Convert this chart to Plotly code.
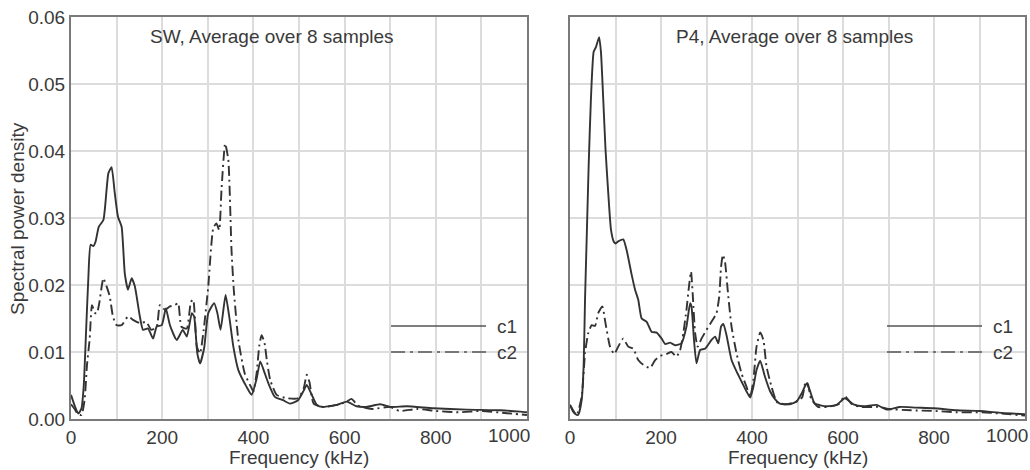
import plotly.graph_objects as go

# ---------------- data ----------------
sw_c1_x = [0, 8, 16, 23, 28, 33, 38, 43, 49, 54, 61, 71, 78, 82, 89, 96, 103, 111, 118, 125,
           133, 140, 151, 158, 169, 180, 188, 199, 208, 217, 232, 245, 254, 265, 270, 277, 283,
           292, 301, 314, 321, 328, 339, 348, 356, 367, 385, 396, 407, 415, 425, 433, 447, 465,
           480, 498, 510, 517, 528, 539, 553, 583, 605, 626, 648, 678, 700, 736, 795, 868, 941,
           985, 1000]
sw_c1_y = [0.0036, 0.0020, 0.0008, 0.0016, 0.0050, 0.0130, 0.0210, 0.0260, 0.0258, 0.0265,
           0.0287, 0.0297, 0.0342, 0.0367, 0.0376, 0.0337, 0.0302, 0.0287, 0.0217, 0.0193,
           0.0210, 0.0198, 0.0153, 0.0133, 0.0135, 0.0120, 0.0138, 0.0140, 0.0165, 0.0140,
           0.0118, 0.0133, 0.0123, 0.0158, 0.0153, 0.0098, 0.0083, 0.0106, 0.0158, 0.0173,
           0.0158, 0.0133, 0.0185, 0.0148, 0.0108, 0.0073, 0.0048, 0.0036, 0.0060, 0.0086,
           0.0068, 0.0053, 0.0033, 0.0028, 0.0023, 0.0028, 0.0042, 0.0051, 0.0036, 0.0021,
           0.0018, 0.0021, 0.0026, 0.0019, 0.0018, 0.0022, 0.0018, 0.0019, 0.0016, 0.0014,
           0.0013, 0.0011, 0.0010]

sw_c2_x = [0, 8, 14, 23, 30, 35, 41, 46, 53, 57, 62, 71, 78, 85, 92, 100, 111, 125, 136, 151,
           165, 176, 188, 195, 206, 217, 228, 235, 242, 254, 263, 268, 276, 283, 291, 301, 312,
           319, 325, 330, 338, 345, 352, 357, 367, 381, 396, 400, 407, 413, 418, 424, 430, 437,
           451, 473, 498, 510, 517, 523, 532, 553, 583, 605, 615, 630, 660, 700, 720, 760, 800,
           850, 900, 950, 1000]
sw_c2_y = [0.0022, 0.0015, 0.0008, 0.0006, 0.0030, 0.0080, 0.0120, 0.0170, 0.0158, 0.0158,
           0.0173, 0.0210, 0.0198, 0.0183, 0.0153, 0.0140, 0.0140, 0.0153, 0.0148, 0.0143,
           0.0145, 0.0133, 0.0138, 0.0170, 0.0163, 0.0168, 0.0170, 0.0173, 0.0138, 0.0135,
           0.0175, 0.0178, 0.0108, 0.0098, 0.0133, 0.0198, 0.0285, 0.0292, 0.0282, 0.0342,
           0.0411, 0.0387, 0.0252, 0.0193, 0.0118, 0.0068, 0.0046, 0.0041, 0.0068, 0.0110,
           0.0125, 0.0115, 0.0085, 0.0058, 0.0036, 0.0031, 0.0031, 0.0045, 0.0066, 0.0055,
           0.0023, 0.0018, 0.0021, 0.0026, 0.0030, 0.0020, 0.0015, 0.0018, 0.0012, 0.0015,
           0.0012, 0.0010, 0.0012, 0.0009, 0.0006]

p4_c1_x = [0, 6, 11, 18, 25.6, 30, 33, 37, 41, 46, 52, 57, 64, 68, 73, 78, 84, 90, 96, 100,
           106, 117, 124.5, 135, 143, 150, 157.5, 168.5, 179.5, 190.5, 201.5, 209, 220, 231,
           245, 256, 264, 267, 272.5, 278, 286, 297, 311, 319, 326, 332, 337, 344, 355, 366,
           377, 388, 396, 403, 410, 418, 428.5, 440, 450, 461, 483, 498, 509, 520, 527, 538,
           564, 586, 604, 623, 645, 674, 696, 725, 760, 800, 850, 900, 950, 1000]
p4_c1_y = [0.0021, 0.0012, 0.0008, 0.0006, 0.0028, 0.0080, 0.0178, 0.0278, 0.0378, 0.0478,
           0.0548, 0.0555, 0.0570, 0.0548, 0.0478, 0.0403, 0.0338, 0.0283, 0.0265, 0.0262,
           0.0265, 0.0268, 0.0252, 0.0217, 0.0193, 0.0178, 0.0150, 0.0145, 0.0130, 0.0129,
           0.0120, 0.0112, 0.0114, 0.0110, 0.0113, 0.0138, 0.0173, 0.0168, 0.0118, 0.0083,
           0.0103, 0.0105, 0.0118, 0.0123, 0.0113, 0.0138, 0.0142, 0.0125, 0.0088, 0.0071,
           0.0056, 0.0041, 0.0032, 0.0048, 0.0073, 0.0087, 0.0063, 0.0041, 0.0030, 0.0023,
           0.0022, 0.0026, 0.0038, 0.0053, 0.0043, 0.0023, 0.0019, 0.0021, 0.0031, 0.0022,
           0.0019, 0.0021, 0.0014, 0.0018, 0.0017, 0.0016, 0.0013, 0.0012, 0.0009, 0.0007]

p4_c2_x = [0, 14.6, 25.6, 33, 40, 47.6, 55, 62, 71, 78, 88, 97.4, 106, 117, 128, 139, 150, 161,
           176, 187, 198, 212, 223, 234, 242, 249, 256, 261.5, 266, 270, 275, 280.6, 289, 300,
           311, 322, 328, 332, 336, 340.6, 346.5, 355, 366, 377, 388, 396, 403, 410, 418, 425,
           432, 443, 455, 475, 495, 510, 518, 523, 530, 545, 565, 590, 604, 620, 640, 680, 700,
           750, 800, 850, 900, 950, 1000]
p4_c2_y = [0.0021, 0.0006, 0.0033, 0.0098, 0.0128, 0.0140, 0.0139, 0.0158, 0.0168, 0.0143,
           0.0108, 0.0097, 0.0108, 0.0120, 0.0108, 0.0105, 0.0088, 0.0081, 0.0076, 0.0088,
           0.0094, 0.0097, 0.0100, 0.0093, 0.0103, 0.0128, 0.0163, 0.0198, 0.0220, 0.0183,
           0.0128, 0.0108, 0.0120, 0.0133, 0.0145, 0.0158, 0.0183, 0.0227, 0.0245, 0.0235,
           0.0193, 0.0138, 0.0098, 0.0068, 0.0048, 0.0033, 0.0058, 0.0108, 0.0129, 0.0118,
           0.0078, 0.0048, 0.0025, 0.0022, 0.0025, 0.0032, 0.0056, 0.0052, 0.0030, 0.0018,
           0.0018, 0.0022, 0.0034, 0.0022, 0.0018, 0.0018, 0.0015, 0.0013, 0.0012, 0.0010,
           0.0010, 0.0008, 0.0005]

x_tick_vals = [0, 100, 200, 300, 400, 500, 600, 700, 800, 900, 1000]
x_tick_text = ["0", "", "200", "", "400", "", "600", "", "800", "", ""]
y_tick_vals = [0.00, 0.01, 0.02, 0.03, 0.04, 0.05, 0.06]
y_tick_text = ["0.00", "0.01", "0.02", "0.03", "0.04", "0.05", "0.06"]
panel_titles = ["SW, Average over 8 samples", "P4, Average over 8 samples"]
series_names = ["c1", "c2"]
x_title = "Frequency (kHz)"
y_title = "Spectral power density"

# ---------------- style ----------------
W, H = 1030, 470
FONT = "Liberation Sans, Arial, sans-serif"
FS = 19
TXT = "#3a3a3a"
LINE = "#333333"
GRID = "#dcdcdc"
FRAME = "#7a7a7a"
DASH_DATA = "10px,4px,2px,4px"
DASH_LEG = "14px,5px,3px,5px"


def px(xp):
    return xp / W


def py(yp):
    return 1 - yp / H


fig = go.Figure()

panels = [
    ("x", "y", sw_c1_x, sw_c1_y, sw_c2_x, sw_c2_y),
    ("x2", "y2", p4_c1_x, p4_c1_y, p4_c2_x, p4_c2_y),
]
for xa, ya, x1, y1, x2, y2 in panels:
    fig.add_trace(go.Scatter(x=x1, y=y1, xaxis=xa, yaxis=ya, mode="lines",
                             name=series_names[0], showlegend=False,
                             line=dict(color=LINE, width=1.9, shape="spline",
                                       smoothing=0.5)))
    fig.add_trace(go.Scatter(x=x2, y=y2, xaxis=xa, yaxis=ya, mode="lines",
                             name=series_names[1], showlegend=False,
                             line=dict(color=LINE, width=1.9, dash=DASH_DATA,
                                       shape="spline", smoothing=0.5)))

axis_common = dict(
    showline=True, mirror=True, linecolor=FRAME, linewidth=2,
    showgrid=True, gridcolor=GRID, gridwidth=2, zeroline=False, automargin=False,
    ticks="", tickfont=dict(family=FONT, size=FS, color=TXT),
)

dom_y = [py(419), py(17)]
fig.update_layout(
    width=W, height=H,
    margin=dict(l=0, r=0, t=0, b=0, pad=0),
    paper_bgcolor="white", plot_bgcolor="white",
    font=dict(family=FONT, size=FS, color=TXT),
    showlegend=False,
    xaxis=dict(domain=[px(71), px(527)], range=[0, 1000], anchor="y",
               tickvals=x_tick_vals, ticktext=x_tick_text, **axis_common),
    yaxis=dict(domain=dom_y, range=[0, 0.06], anchor="x",
               tickvals=y_tick_vals, ticktext=y_tick_text, **axis_common),
    xaxis2=dict(domain=[px(570), px(1025)], range=[0, 1000], anchor="y2",
                tickvals=x_tick_vals, ticktext=x_tick_text, **axis_common),
    yaxis2=dict(domain=dom_y, range=[0, 0.06], anchor="x2",
                tickvals=y_tick_vals, ticktext=y_tick_text, showticklabels=False,
                **axis_common),
)

ann = []
shapes = []
# axis titles
ann.append(dict(text=y_title, xref="paper", yref="paper", x=px(18), y=py(219),
                textangle=-90, showarrow=False, xanchor="center", yanchor="middle",
                font=dict(family=FONT, size=FS, color=TXT)))
for xa, cx in [("x", 299), ("x2", 797.5)]:
    ann.append(dict(text=x_title, xref="paper", yref="paper", x=px(cx), y=py(457),
                    showarrow=False, xanchor="center", yanchor="middle",
                    font=dict(family=FONT, size=FS, color=TXT)))
    # last tick label, kept inside like the original
    ann.append(dict(text="1000", xref=xa, yref="paper", x=1000, y=py(435),
                    showarrow=False, xanchor="right", yanchor="middle", xshift=5,
                    font=dict(family=FONT, size=FS, color=TXT)))

# panel titles
for t, cx in zip(panel_titles, [272, 794]):
    ann.append(dict(text=t, xref="paper", yref="paper", x=px(cx), y=py(36),
                    showarrow=False, xanchor="center", yanchor="middle",
                    font=dict(family=FONT, size=FS, color=TXT)))

# legends (long line samples)
for lx0, lx1 in [(391, 486), (887, 982)]:
    for j, (yy, dash) in enumerate([(326, "solid"), (352, DASH_LEG)]):
        shapes.append(dict(type="line", xref="paper", yref="paper",
                           x0=px(lx0), x1=px(lx1), y0=py(yy), y1=py(yy),
                           line=dict(color="#555555", width=1.6, dash=dash)))
        ann.append(dict(text=series_names[j], xref="paper", yref="paper",
                        x=px(lx1 + 9), y=py(yy), showarrow=False,
                        xanchor="left", yanchor="middle",
                        font=dict(family=FONT, size=FS, color=TXT)))

# slightly darker 0.03 grid line in the right panel
shapes.append(dict(type="line", xref="x2 domain", yref="y2", x0=0, x1=1, y0=0.03, y1=0.03,
                   line=dict(color="#b4b4b4", width=2), layer="below"))

fig.update_layout(annotations=ann, shapes=shapes)
fig.write_html("out.html",
               config={"displayModeBar": False},
               post_script="document.body.style.margin='0px';"
                           "document.body.style.overflow='hidden';")
